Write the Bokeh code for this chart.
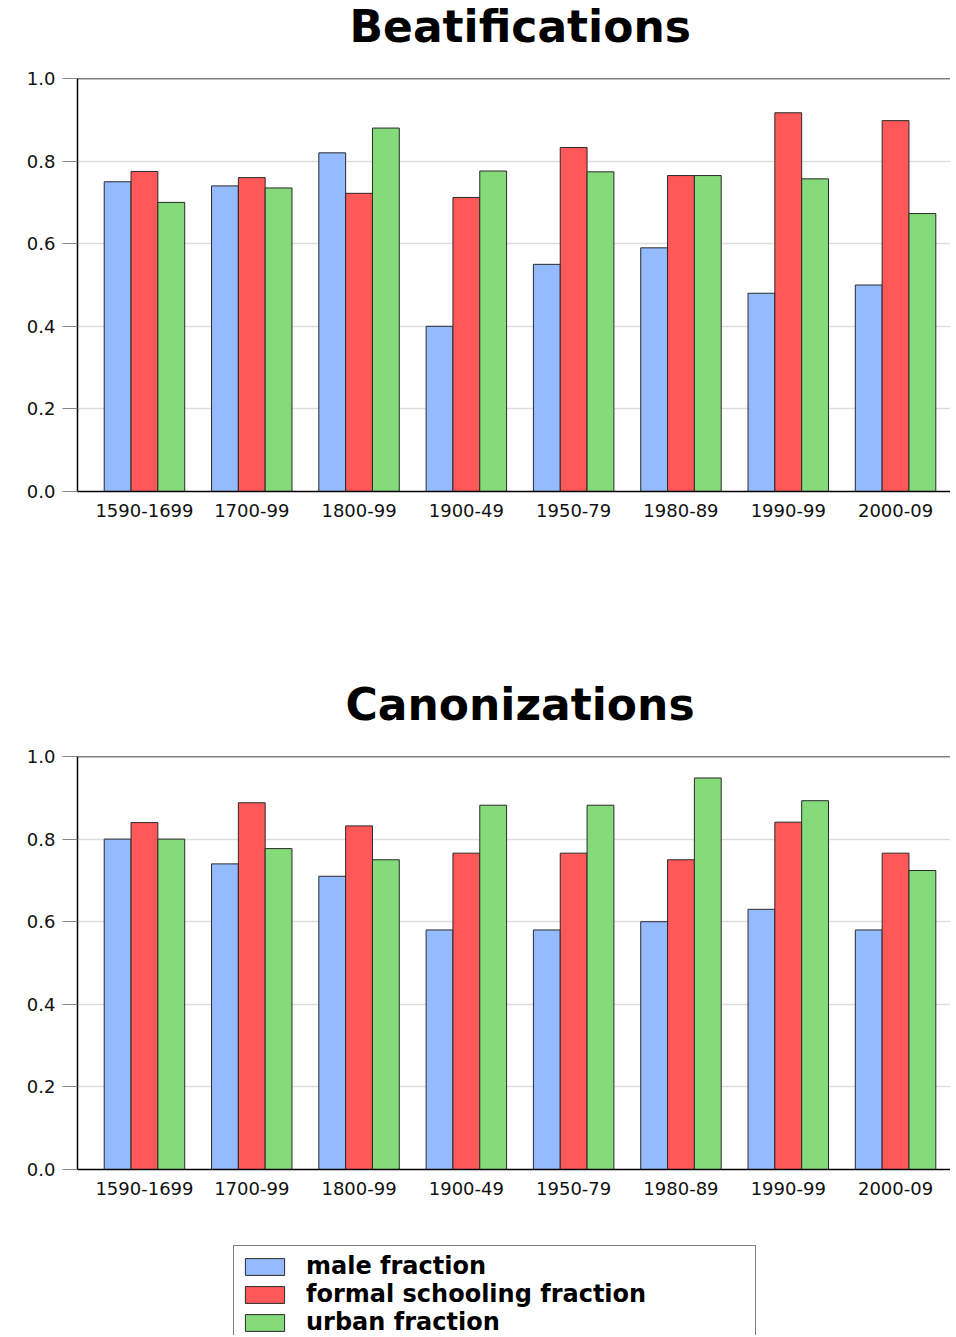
import numpy as np
from bokeh.plotting import figure
from bokeh.models import Range1d, FixedTicker, Span, Legend, LegendItem, PrintfTickFormatter
from bokeh.layouts import column
from bokeh.embed import file_html
from bokeh.resources import INLINE

periods = ["1590-1699", "1700-99", "1800-99", "1900-49", "1950-79", "1980-89", "1990-99", "2000-09"]
series_names = ["male fraction", "formal schooling fraction", "urban fraction"]

beat_male = [0.75, 0.74, 0.82, 0.40, 0.55, 0.59, 0.48, 0.50]
beat_school = [0.775, 0.76, 0.722, 0.712, 0.833, 0.765, 0.917, 0.898]
beat_urban = [0.70, 0.735, 0.88, 0.776, 0.774, 0.765, 0.757, 0.673]

can_male = [0.80, 0.74, 0.71, 0.58, 0.58, 0.60, 0.63, 0.58]
can_school = [0.84, 0.888, 0.832, 0.766, 0.766, 0.75, 0.841, 0.766]
can_urban = [0.80, 0.777, 0.75, 0.882, 0.882, 0.948, 0.893, 0.724]

y_ticks = [0.0, 0.2, 0.4, 0.6, 0.8, 1.0]
colors = ["#94BBFF", "#FF5858", "#85DB79"]
offsets = [-0.25, 0.0, 0.25]

FONT = "DejaVu Sans"
W = 950
LEFT = 77


def blank_figure(height):
    f = figure(width=W, height=height, output_backend="svg", toolbar_location=None,
               x_axis_location=None, y_axis_location=None,
               x_range=Range1d(0, 1), y_range=Range1d(0, 1),
               min_border_left=LEFT, min_border_right=0, min_border_top=0, min_border_bottom=0)
    f.grid.visible = False
    f.outline_line_color = None
    return f


def title_figure(text, offset):
    f = blank_figure(68)
    f.title.text = text
    f.title.text_font = FONT
    f.title.text_font_style = "bold"
    f.title.text_font_size = "44px"
    f.title.text_color = "black"
    f.title.align = "left"
    f.title.offset = offset
    f.title.vertical_align = "top"
    f.title.standoff = 0
    return f


def add_bars(p, series, **kw):
    idx = np.arange(len(periods))
    return [p.vbar(x=idx + off, top=vals, bottom=0, width=0.25, fill_color=col,
                   line_color="#2a2a2a", line_width=1, **kw)
            for vals, col, off in zip(series, colors, offsets)]


def make_plot(series, height, top, bottom):
    p = figure(width=W, height=height, output_backend="svg", toolbar_location=None,
               x_range=Range1d(-0.624, 7.512), y_range=Range1d(0, 1.0),
               min_border_left=LEFT, min_border_right=0, min_border_top=top,
               min_border_bottom=bottom)
    p.outline_line_color = None
    add_bars(p, series)
    p.add_layout(Span(location=1.0, dimension="width", line_color="black", line_width=1.5))
    p.xgrid.visible = False
    p.ygrid.ticker = FixedTicker(ticks=y_ticks)
    p.ygrid.grid_line_color = "#DDDDDD"
    p.ygrid.grid_line_width = 1.5

    xa = p.xaxis[0]
    xa.ticker = FixedTicker(ticks=list(range(len(periods))))
    xa.major_label_overrides = {i: lab for i, lab in enumerate(periods)}
    xa.major_tick_line_color = None
    xa.minor_tick_line_color = None
    xa.axis_line_color = "black"
    xa.axis_line_width = 1.5
    xa.major_label_text_font = FONT
    xa.major_label_text_font_size = "18px"
    xa.major_label_text_color = "#111111"
    xa.major_label_standoff = 6

    ya = p.yaxis[0]
    ya.ticker = FixedTicker(ticks=y_ticks)
    ya.formatter = PrintfTickFormatter(format="%.1f")
    ya.major_tick_line_color = "#888888"
    ya.major_tick_out = 15
    ya.major_tick_in = 0
    ya.minor_tick_line_color = None
    ya.axis_line_color = "black"
    ya.axis_line_width = 1.5
    ya.major_label_text_font = FONT
    ya.major_label_text_font_size = "18px"
    ya.major_label_text_color = "#111111"
    ya.major_label_standoff = 7
    return p


t1 = title_figure("Beatifications", 272)
p1 = make_plot([beat_male, beat_school, beat_urban], 610, 10, 187)
t2 = title_figure("Canonizations", 268)
p2 = make_plot([can_male, can_school, can_urban], 479, 10, 56)

# legend panel; its box is cut at the bottom edge like the reference
lg = blank_figure(110)
swatches = add_bars(lg, [can_male, can_school, can_urban], visible=False)
legend = Legend(items=[LegendItem(label=n, renderers=[r]) for n, r in zip(series_names, swatches)],
                location=(156, -8), orientation="vertical",
                label_text_font=FONT, label_text_font_style="bold", label_text_font_size="24px",
                label_text_color="black",
                glyph_width=49, glyph_height=21, label_standoff=17, label_width=443,
                label_height=28, spacing=0, padding=6, margin=0,
                inactive_fill_alpha=0.0,
                border_line_color="black", border_line_width=1, background_fill_alpha=1)
lg.add_layout(legend, "center")

layout = column(t1, p1, t2, p2, lg, spacing=0)
open("out.html", "w").write(file_html(layout, INLINE))
